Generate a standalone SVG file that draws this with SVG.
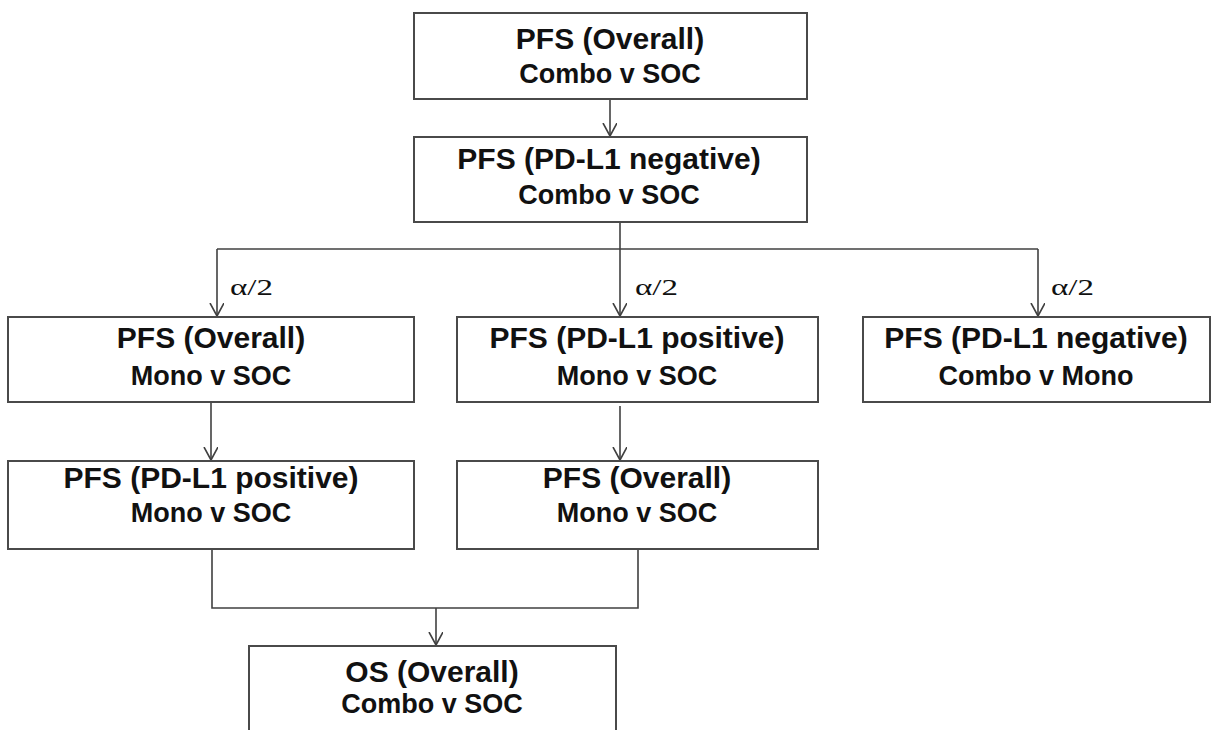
<svg xmlns="http://www.w3.org/2000/svg" width="1211" height="730" viewBox="0 0 1211 730">
<style>
.box{fill:#fff;stroke:#4a4a4a;stroke-width:2}
.t1{font-family:"Liberation Sans",Arial,sans-serif;font-weight:bold;font-size:30px;fill:#111;text-anchor:middle}
.t2{font-family:"Liberation Sans",Arial,sans-serif;font-weight:bold;font-size:27px;fill:#111;text-anchor:middle}
.lab{font-family:"Liberation Serif","Times New Roman",serif;font-size:24px;fill:#111}
.c{fill:none;stroke:#404040;stroke-width:1.6}
</style>
<defs>
<marker id="arr" markerWidth="20" markerHeight="20" refX="13" refY="7" orient="auto" markerUnits="userSpaceOnUse">
<path d="M0,0 L13,7 L0,14" fill="none" stroke="#404040" stroke-width="1.6"/>
</marker>
</defs>
<rect width="1211" height="730" fill="#fff"/>
<g id="connectors">
<path class="c" d="M610,99 L610,136" marker-end="url(#arr)"/>
<path class="c" d="M620,222 L620,316" marker-end="url(#arr)"/>
<path class="c" d="M217,249 L1038,249"/>
<path class="c" d="M217,249 L217,316" marker-end="url(#arr)"/>
<path class="c" d="M1038,249 L1038,316" marker-end="url(#arr)"/>
<path class="c" d="M211,402 L211,460" marker-end="url(#arr)"/>
<path class="c" d="M620,406 L620,460" marker-end="url(#arr)"/>
<path class="c" d="M212,549 L212,608 L638,608 L638,549"/>
<path class="c" d="M436,608 L436,645" marker-end="url(#arr)"/>
<text class="lab" x="230" y="295" textLength="43" lengthAdjust="spacingAndGlyphs">α/2</text>
<text class="lab" x="635" y="295" textLength="43" lengthAdjust="spacingAndGlyphs">α/2</text>
<text class="lab" x="1051" y="295" textLength="43" lengthAdjust="spacingAndGlyphs">α/2</text>
</g>
<g id="n1">
<rect class="box" x="414" y="13" width="393" height="86"/>
<text class="t1" x="610" y="49">PFS (Overall)</text>
<text class="t2" x="610" y="83">Combo v SOC</text>
</g>
<g id="n2">
<rect class="box" x="414" y="137" width="393" height="85"/>
<text class="t1" x="609" y="169">PFS (PD-L1 negative)</text>
<text class="t2" x="609" y="204">Combo v SOC</text>
</g>
<g id="n3">
<rect class="box" x="8" y="317" width="406" height="85"/>
<text class="t1" x="211" y="348">PFS (Overall)</text>
<text class="t2" x="211" y="385">Mono v SOC</text>
</g>
<g id="n4">
<rect class="box" x="457" y="317" width="361" height="85"/>
<text class="t1" x="637" y="348">PFS (PD-L1 positive)</text>
<text class="t2" x="637" y="385">Mono v SOC</text>
</g>
<g id="n5">
<rect class="box" x="863" y="317" width="347" height="85"/>
<text class="t1" x="1036" y="348">PFS (PD-L1 negative)</text>
<text class="t2" x="1036" y="385">Combo v Mono</text>
</g>
<g id="n6">
<rect class="box" x="8" y="461" width="406" height="88"/>
<text class="t1" x="211" y="488">PFS (PD-L1 positive)</text>
<text class="t2" x="211" y="522">Mono v SOC</text>
</g>
<g id="n7">
<rect class="box" x="457" y="461" width="361" height="88"/>
<text class="t1" x="637" y="488">PFS (Overall)</text>
<text class="t2" x="637" y="522">Mono v SOC</text>
</g>
<g id="n8">
<rect class="box" x="249" y="646" width="367" height="100"/>
<text class="t1" x="432" y="682">OS (Overall)</text>
<text class="t2" x="432" y="713">Combo v SOC</text>
</g>
</svg>
